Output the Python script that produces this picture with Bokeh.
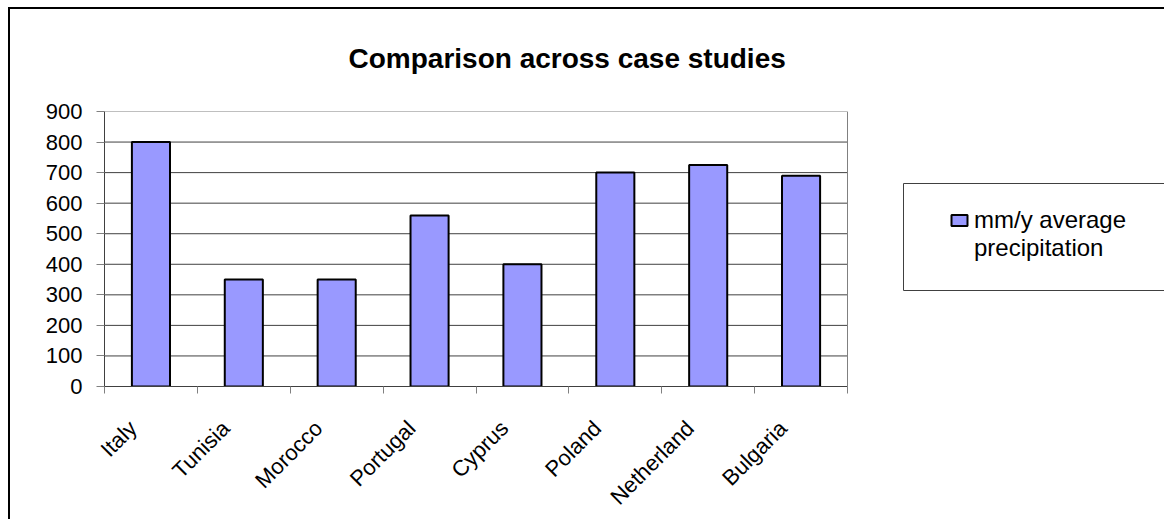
import math
from bokeh.plotting import figure
from bokeh.models import Range1d, FixedTicker, BoxAnnotation, Legend, LegendItem
from bokeh.embed import file_html
from bokeh.resources import INLINE

# ---- data ----
countries = ["Italy", "Tunisia", "Morocco", "Portugal", "Cyprus", "Poland", "Netherland", "Bulgaria"]
precipitation = [800, 350, 350, 560, 400, 700, 725, 690]
y_ticks = [0, 100, 200, 300, 400, 500, 600, 700, 800, 900]
series_label_lines = ["mm/y average", "precipitation"]
chart_title = "Comparison across case studies"

FONT = "Liberation Sans"

# ---- layout (pixels) ----
W, H = 1156, 512          # canvas size (page offset by CSS margin + border)
LEFT, TOP = 94, 102       # frame offset inside canvas
PLOT_W, PLOT_H = 743, 277 # plot-area size
n = len(countries)
x_end = n * (W - LEFT) / PLOT_W   # frame extends right so the legend is inside it
px = n / PLOT_W                   # data units per pixel along x

xpos = [i + 0.5 for i in range(n)]
label_pos = [x - 18 * px for x in xpos]
boundaries = list(range(n + 1))

p = figure(width=W, height=H, output_backend="svg", toolbar_location=None,
           x_range=Range1d(0, x_end), y_range=Range1d(y_ticks[0], y_ticks[-1]),
           min_border_left=LEFT, min_border_top=TOP, min_border_right=0,
           min_border_bottom=H - TOP - PLOT_H)
p.styles = {"margin-left": "8px", "margin-top": "7px",
            "border-left": "2px solid black", "border-top": "2px solid black"}

p.background_fill_color = "white"
p.border_fill_color = "white"
p.outline_line_color = None

# title (trailing blank line lifts it a little higher above the plot area)
p.title.text = chart_title + "\n"
p.title.text_font = FONT
p.title.text_font_size = "28px"
p.title.text_font_style = "bold"
p.title.text_color = "black"
p.title.align = "left"
p.title.offset = 244
p.title.standoff = 14

# gridlines and plot-area border
p.segment(x0=0, x1=n, y0=y_ticks[1:-1], y1=y_ticks[1:-1], line_color="#404040", line_width=1)
p.quad(left=0, right=n, bottom=y_ticks[0], top=y_ticks[-1], fill_color=None,
       line_color="#808080", line_width=1)

r = p.vbar(x=xpos, top=precipitation, bottom=0, width=0.41,
           fill_color="#9999FF", line_color="black", line_width=2)
# empty renderer used only for the second legend line
r_blank = p.vbar(x=[], top=[], width=0.41, fill_alpha=0, line_alpha=0)

# y axis
ya = p.yaxis[0]
ya.ticker = FixedTicker(ticks=y_ticks)
ya.axis_line_color = "#404040"
ya.major_tick_line_color = "#808080"
ya.major_tick_in = 0
ya.major_tick_out = 8
ya.minor_tick_line_color = None
ya.major_label_standoff = 14
ya.major_label_text_font = FONT
ya.major_label_text_font_size = "22px"
ya.major_label_text_color = "black"

# x axis
xa = p.xaxis[0]
xa.bounds = (0, n)
xa.ticker = FixedTicker(ticks=label_pos, minor_ticks=boundaries)
xa.major_label_overrides = {x: c for x, c in zip(label_pos, countries)}
xa.axis_line_color = "#404040"
xa.major_tick_line_color = None
xa.major_tick_in = 0
xa.major_tick_out = 0
xa.minor_tick_line_color = "#808080"
xa.minor_tick_in = 0
xa.minor_tick_out = 7
xa.major_label_orientation = math.pi / 4
xa.major_label_standoff = 31
xa.major_label_text_font = FONT
xa.major_label_text_font_size = "22px"
xa.major_label_text_color = "black"

p.xgrid.visible = False
p.ygrid.visible = False

# legend box
p.add_layout(BoxAnnotation(left=891, right=W + 10, top=172, bottom=279,
                           left_units="canvas", right_units="canvas",
                           top_units="canvas", bottom_units="canvas",
                           fill_color="white", fill_alpha=1.0,
                           line_color="#404040", line_alpha=1.0, line_width=1))

legend = Legend(items=[LegendItem(label=series_label_lines[0], renderers=[r]),
                       LegendItem(label=series_label_lines[1], renderers=[r_blank])],
                location=(845, 124), margin=0, padding=0, spacing=0,
                border_line_color=None, background_fill_color=None,
                background_fill_alpha=0,
                glyph_width=20, glyph_height=14, label_standoff=5, label_height=28,
                label_text_font=FONT, label_text_font_size="24px",
                label_text_color="black")
p.add_layout(legend)

open("out.html", "w").write(file_html(p, INLINE))
